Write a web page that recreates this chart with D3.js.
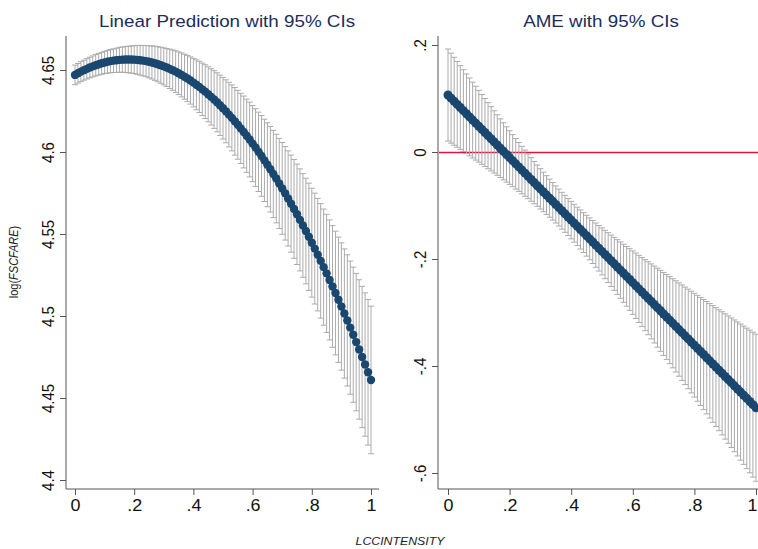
<!DOCTYPE html>
<html>
<head>
<meta charset="utf-8">
<script src="https://cdn.jsdelivr.net/npm/d3@7"></script>
<style>
body { margin: 0; background: #fff; }
svg text { font-family: "Liberation Sans", Arial, sans-serif; }
</style>
</head>
<body>
<div id="chart-container"></div>
<script>
(function() {

// LCCINTENSITY grid (margins at 0, .01, ..., 1)
var intensity = [
    0, .01, .02, .03, .04, .05, .06, .07, .08, .09,
    .10, .11, .12, .13, .14, .15, .16, .17, .18, .19,
    .20, .21, .22, .23, .24, .25, .26, .27, .28, .29,
    .30, .31, .32, .33, .34, .35, .36, .37, .38, .39,
    .40, .41, .42, .43, .44, .45, .46, .47, .48, .49,
    .50, .51, .52, .53, .54, .55, .56, .57, .58, .59,
    .60, .61, .62, .63, .64, .65, .66, .67, .68, .69,
    .70, .71, .72, .73, .74, .75, .76, .77, .78, .79,
    .80, .81, .82, .83, .84, .85, .86, .87, .88, .89,
    .90, .91, .92, .93, .94, .95, .96, .97, .98, .99, 1
];

// linear prediction of log(FSCFARE)
var predValues = [
    4.6470, 4.6480, 4.6490, 4.6499, 4.6507, 4.6515, 4.6522, 4.6529, 4.6535, 4.6541,
    4.6546, 4.6550, 4.6554, 4.6557, 4.6559, 4.6562, 4.6563, 4.6564, 4.6564, 4.6564,
    4.6563, 4.6562, 4.6559, 4.6557, 4.6554, 4.6550, 4.6546, 4.6541, 4.6535, 4.6529,
    4.6522, 4.6515, 4.6507, 4.6499, 4.6490, 4.6480, 4.6470, 4.6459, 4.6448, 4.6436,
    4.6423, 4.6410, 4.6397, 4.6382, 4.6368, 4.6352, 4.6336, 4.6320, 4.6303, 4.6285,
    4.6267, 4.6248, 4.6228, 4.6208, 4.6187, 4.6166, 4.6144, 4.6122, 4.6099, 4.6076,
    4.6051, 4.6027, 4.6001, 4.5976, 4.5949, 4.5922, 4.5895, 4.5866, 4.5838, 4.5808,
    4.5778, 4.5748, 4.5717, 4.5685, 4.5653, 4.5620, 4.5586, 4.5552, 4.5518, 4.5483,
    4.5447, 4.5411, 4.5374, 4.5336, 4.5298, 4.5260, 4.5220, 4.5180, 4.5140, 4.5099,
    4.5058, 4.5015, 4.4973, 4.4929, 4.4886, 4.4841, 4.4796, 4.4750, 4.4704, 4.4657, 4.4610
];
var predLower = [
    4.6410, 4.6420, 4.6429, 4.6438, 4.6445, 4.6452, 4.6458, 4.6464, 4.6469, 4.6474,
    4.6478, 4.6481, 4.6483, 4.6485, 4.6485, 4.6486, 4.6486, 4.6485, 4.6483, 4.6481,
    4.6478, 4.6474, 4.6469, 4.6464, 4.6459, 4.6452, 4.6445, 4.6437, 4.6428, 4.6419,
    4.6409, 4.6399, 4.6387, 4.6376, 4.6363, 4.6350, 4.6336, 4.6322, 4.6307, 4.6292,
    4.6275, 4.6258, 4.6241, 4.6222, 4.6204, 4.6184, 4.6164, 4.6144, 4.6123, 4.6101,
    4.6079, 4.6056, 4.6031, 4.6007, 4.5981, 4.5956, 4.5930, 4.5903, 4.5876, 4.5848,
    4.5819, 4.5790, 4.5759, 4.5730, 4.5698, 4.5666, 4.5634, 4.5600, 4.5568, 4.5533,
    4.5498, 4.5463, 4.5427, 4.5389, 4.5352, 4.5314, 4.5275, 4.5236, 4.5196, 4.5156,
    4.5115, 4.5073, 4.5031, 4.4987, 4.4944, 4.4900, 4.4854, 4.4809, 4.4763, 4.4717,
    4.4670, 4.4621, 4.4573, 4.4523, 4.4474, 4.4422, 4.4371, 4.4319, 4.4267, 4.4213, 4.4160
];
var predUpper = [
    4.6530, 4.6540, 4.6551, 4.6560, 4.6569, 4.6578, 4.6586, 4.6594, 4.6601, 4.6608,
    4.6614, 4.6619, 4.6625, 4.6629, 4.6633, 4.6638, 4.6640, 4.6643, 4.6645, 4.6647,
    4.6648, 4.6650, 4.6649, 4.6650, 4.6649, 4.6648, 4.6647, 4.6645, 4.6642, 4.6639,
    4.6635, 4.6631, 4.6627, 4.6622, 4.6617, 4.6610, 4.6604, 4.6596, 4.6589, 4.6580,
    4.6571, 4.6562, 4.6553, 4.6542, 4.6532, 4.6520, 4.6508, 4.6496, 4.6483, 4.6469,
    4.6455, 4.6440, 4.6425, 4.6409, 4.6393, 4.6376, 4.6358, 4.6341, 4.6322, 4.6304,
    4.6283, 4.6264, 4.6243, 4.6222, 4.6200, 4.6178, 4.6156, 4.6132, 4.6108, 4.6083,
    4.6058, 4.6033, 4.6007, 4.5981, 4.5954, 4.5926, 4.5897, 4.5868, 4.5840, 4.5810,
    4.5779, 4.5749, 4.5717, 4.5685, 4.5652, 4.5620, 4.5586, 4.5551, 4.5517, 4.5481,
    4.5446, 4.5409, 4.5373, 4.5335, 4.5298, 4.5260, 4.5221, 4.5181, 4.5141, 4.5101, 4.5060
];

// average marginal effect
var ameValues = [
    .1065, .1007, .0948, .0890, .0831, .0773, .0714, .0656, .0597, .0539,
    .0481, .0422, .0364, .0305, .0247, .0188, .0130, .0071, .0013, -.0046,
    -.0104, -.0162, -.0221, -.0279, -.0338, -.0396, -.0455, -.0513, -.0572, -.0630,
    -.0689, -.0747, -.0805, -.0864, -.0922, -.0981, -.1039, -.1098, -.1156, -.1215,
    -.1273, -.1331, -.1390, -.1448, -.1507, -.1565, -.1624, -.1682, -.1741, -.1799,
    -.1858, -.1916, -.1974, -.2033, -.2091, -.2150, -.2208, -.2267, -.2325, -.2384,
    -.2442, -.2500, -.2559, -.2617, -.2676, -.2734, -.2793, -.2851, -.2910, -.2968,
    -.3027, -.3085, -.3143, -.3202, -.3260, -.3319, -.3377, -.3436, -.3494, -.3553,
    -.3611, -.3669, -.3728, -.3786, -.3845, -.3903, -.3962, -.4020, -.4079, -.4137,
    -.4196, -.4254, -.4312, -.4371, -.4429, -.4488, -.4546, -.4605, -.4663, -.4722, -.4780
];
var ameLower = [
    .0205, .0166, .0126, .0088, .0048, .0009, -.0031, -.0071, -.0111, -.0151,
    -.0190, -.0231, -.0271, -.0313, -.0353, -.0395, -.0436, -.0478, -.0520, -.0563,
    -.0605, -.0648, -.0693, -.0736, -.0782, -.0827, -.0873, -.0920, -.0968, -.1016,
    -.1066, -.1116, -.1167, -.1220, -.1273, -.1328, -.1384, -.1442, -.1501, -.1562,
    -.1623, -.1685, -.1749, -.1814, -.1880, -.1947, -.2016, -.2084, -.2155, -.2225,
    -.2297, -.2368, -.2440, -.2513, -.2586, -.2661, -.2735, -.2810, -.2884, -.2960,
    -.3035, -.3111, -.3187, -.3263, -.3340, -.3416, -.3494, -.3570, -.3648, -.3725,
    -.3803, -.3880, -.3957, -.4035, -.4113, -.4191, -.4269, -.4347, -.4425, -.4503,
    -.4581, -.4659, -.4738, -.4816, -.4895, -.4973, -.5052, -.5130, -.5209, -.5288,
    -.5367, -.5445, -.5523, -.5603, -.5681, -.5760, -.5839, -.5918, -.5997, -.6076, -.6155
];
var ameUpper = [
    .1925, .1848, .1770, .1692, .1614, .1537, .1459, .1383, .1305, .1229,
    .1152, .1075, .0999, .0923, .0847, .0771, .0696, .0620, .0546, .0471,
    .0397, .0324, .0251, .0178, .0106, .0035, -.0037, -.0106, -.0176, -.0244,
    -.0312, -.0378, -.0443, -.0508, -.0571, -.0634, -.0694, -.0754, -.0811, -.0868,
    -.0923, -.0977, -.1031, -.1082, -.1134, -.1183, -.1232, -.1280, -.1327, -.1373,
    -.1419, -.1464, -.1508, -.1553, -.1596, -.1639, -.1681, -.1724, -.1766, -.1808,
    -.1849, -.1889, -.1931, -.1971, -.2012, -.2052, -.2092, -.2132, -.2172, -.2211,
    -.2251, -.2290, -.2329, -.2369, -.2407, -.2447, -.2485, -.2525, -.2563, -.2603,
    -.2641, -.2679, -.2718, -.2756, -.2795, -.2833, -.2872, -.2910, -.2949, -.2986,
    -.3025, -.3063, -.3101, -.3139, -.3177, -.3216, -.3253, -.3292, -.3329, -.3368, -.3405
];

var xTicks = [0, .2, .4, .6, .8, 1];
var xTickLabels = ["0", ".2", ".4", ".6", ".8", "1"];
var predTicks = [4.4, 4.45, 4.5, 4.55, 4.6, 4.65];
var predTickLabels = ["4.4", "4.45", "4.5", "4.55", "4.6", "4.65"];
var ameTicks = [-.6, -.4, -.2, 0, .2];
var ameTickLabels = ["-.6", "-.4", "-.2", "0", ".2"];

var width = 758, height = 549;
var stretch = 1.12;          // the picture's text is a bit wider than tall
var dotColor = "#1a476f";
var ciColor = "#ababab";
var titleColor = "#1c2d5a";
var axisColor = "#555";

window.onload = setMap();

function setMap() {
    var svg = d3.select("#chart-container")
        .append("svg")
        .attr("width", width)
        .attr("height", height);

    svg.append("rect")
        .attr("width", width)
        .attr("height", height)
        .attr("fill", "#fff");

    drawPanel(svg, {
        title: "Linear Prediction with 95% CIs",
        titleX: 227,
        axisX: 66, axisEnd: 379,
        xRange: [75, 371],
        yDomain: [4.4, 4.65], yRange: [480, 70],
        ticks: predTicks, tickLabels: predTickLabels,
        est: predValues, lo: predLower, hi: predUpper,
        dotR: 4.2
    });

    drawPanel(svg, {
        title: "AME with 95% CIs",
        titleX: 601,
        axisX: 438, axisEnd: 758,
        xRange: [448, 756],
        yDomain: [-.6, .2], yRange: [473, 45],
        ticks: ameTicks, tickLabels: ameTickLabels,
        est: ameValues, lo: ameLower, hi: ameUpper,
        dotR: 4.5,
        refLine: 0
    });

    //axis titles
    var yTitle = svg.append("text")
        .attr("transform", "translate(18,262) scale(" + stretch + ",1) rotate(-90)")
        .attr("text-anchor", "middle")
        .style("font-size", "11px")
        .attr("fill", "#222");
    yTitle.append("tspan").text("log(");
    yTitle.append("tspan").style("font-style", "italic").text("FSCFARE");
    yTitle.append("tspan").text(")");

    svg.append("text")
        .attr("transform", "translate(400,545) scale(" + stretch + ",1)")
        .attr("text-anchor", "middle")
        .style("font-size", "11px")
        .style("font-style", "italic")
        .attr("fill", "#222")
        .text("LCCINTENSITY");
};

function drawPanel(svg, o) {
    var x = d3.scaleLinear().domain([0, 1]).range(o.xRange);
    var y = d3.scaleLinear().domain(o.yDomain).range(o.yRange);
    var axisY = 489, axisTop = 36;

    var g = svg.append("g");

    //title
    g.append("text")
        .attr("transform", "translate(" + o.titleX + ",27) scale(" + stretch + ",1)")
        .attr("text-anchor", "middle")
        .style("font-size", "16.8px")
        .attr("fill", titleColor)
        .text(o.title);

    //y axis
    var yAxis = g.append("g")
        .attr("transform", "translate(" + o.axisX + ",0)")
        .call(d3.axisLeft(y)
            .tickValues(o.ticks)
            .tickFormat(function(d, i) { return o.tickLabels[i]; })
            .tickSize(6)
            .tickSizeOuter(0));
    yAxis.select(".domain").remove();
    yAxis.append("line")
        .attr("y1", axisTop).attr("y2", axisY)
        .attr("stroke", axisColor);
    yAxis.selectAll(".tick line").attr("stroke", axisColor);
    yAxis.selectAll(".tick text")
        .attr("x", null).attr("dy", null)
        .attr("transform", "translate(-12,0) scale(" + stretch + ",1) rotate(-90)")
        .attr("text-anchor", "middle")
        .attr("fill", "#111")
        .style("font-size", "15px");

    //x axis
    var xAxis = g.append("g")
        .attr("transform", "translate(0," + axisY + ")")
        .call(d3.axisBottom(x)
            .tickValues(xTicks)
            .tickFormat(function(d, i) { return xTickLabels[i]; })
            .tickSize(6)
            .tickSizeOuter(0));
    xAxis.select(".domain").remove();
    xAxis.append("line")
        .attr("x1", o.axisX).attr("x2", o.axisEnd)
        .attr("stroke", axisColor);
    xAxis.selectAll(".tick line").attr("stroke", axisColor);
    xAxis.selectAll(".tick text")
        .attr("y", null).attr("dy", null)
        .attr("transform", function(d) {
            // keep the last label inside the right edge of the picture
            var shift = (x(d) + 6 > width) ? width - 6 - x(d) : 0;
            return "translate(" + shift + ",22) scale(" + stretch + ",1)";
        })
        .attr("fill", "#111")
        .style("font-size", "16px");

    //reference line
    if (o.refLine !== undefined) {
        g.append("line")
            .attr("x1", o.axisX + 1).attr("x2", o.axisEnd)
            .attr("y1", y(o.refLine) + .5).attr("y2", y(o.refLine) + .5)
            .attr("stroke", "#d6163f")
            .attr("stroke-width", 1.3);
    }

    //confidence intervals with caps
    var ci = g.append("g")
        .attr("stroke", ciColor)
        .attr("stroke-width", 1)
        .selectAll("g")
        .data(intensity)
        .join("g");
    ci.append("line")
        .attr("x1", function(d) { return x(d); })
        .attr("x2", function(d) { return x(d); })
        .attr("y1", function(d, i) { return y(o.lo[i]); })
        .attr("y2", function(d, i) { return y(o.hi[i]); });
    ci.append("line")
        .attr("x1", function(d) { return x(d) - 3; })
        .attr("x2", function(d) { return x(d) + 3; })
        .attr("y1", function(d, i) { return y(o.lo[i]); })
        .attr("y2", function(d, i) { return y(o.lo[i]); });
    ci.append("line")
        .attr("x1", function(d) { return x(d) - 3; })
        .attr("x2", function(d) { return x(d) + 3; })
        .attr("y1", function(d, i) { return y(o.hi[i]); })
        .attr("y2", function(d, i) { return y(o.hi[i]); });

    //estimates
    g.append("g")
        .selectAll("circle")
        .data(intensity)
        .join("circle")
        .attr("cx", function(d) { return x(d); })
        .attr("cy", function(d, i) { return y(o.est[i]); })
        .attr("r", o.dotR)
        .attr("fill", dotColor);
};

})();
</script>
</body>
</html>
